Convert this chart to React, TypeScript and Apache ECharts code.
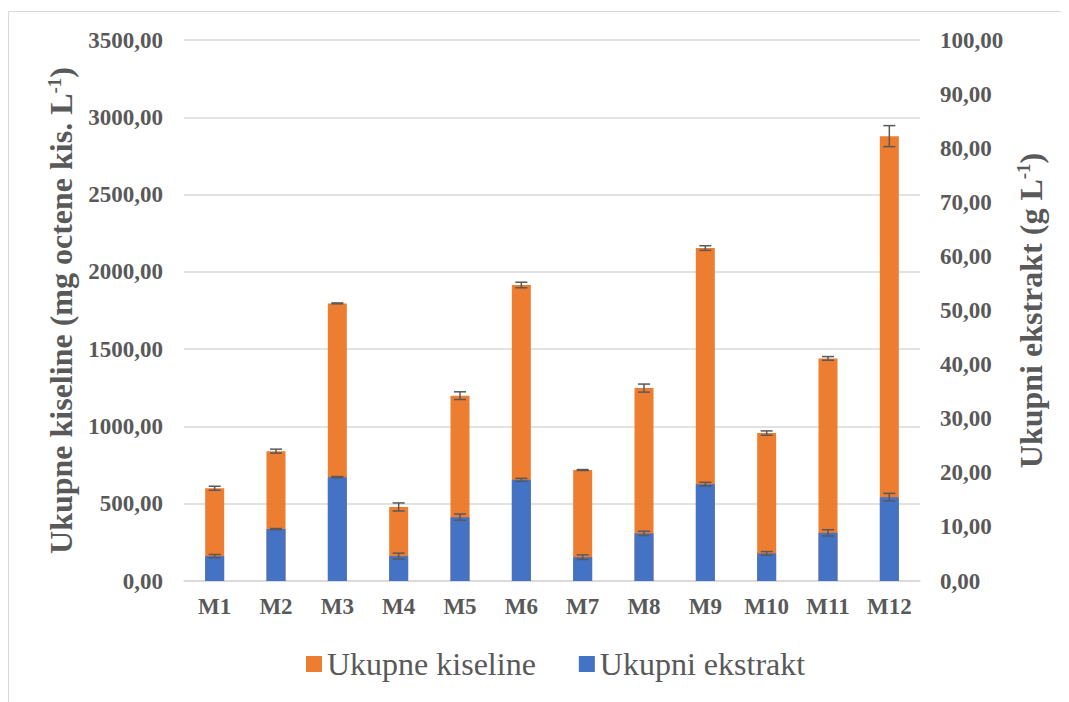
import React, { useEffect, useRef } from "react";
import * as echarts from "echarts";

const categories = ["M1", "M2", "M3", "M4", "M5", "M6", "M7", "M8", "M9", "M10", "M11", "M12"];
const kiseline = [600, 840, 1796, 479, 1199, 1915, 718, 1248, 2154, 957, 1440, 2878];
const kiselineErr = [13, 13, 3, 26, 25, 18, 3, 26, 15, 14, 12, 68];
const ekstrakt = [4.6, 9.6, 19.2, 4.6, 11.8, 18.7, 4.4, 8.8, 17.9, 5.1, 8.9, 15.5];
const ekstraktErr = [0.3, 0.1, 0.1, 0.55, 0.58, 0.28, 0.43, 0.4, 0.34, 0.34, 0.58, 0.7];

const ORANGE = "#ED7D31";
const BLUE = "#4472C4";
const TXT = "#595959";
const FONT = "Liberation Serif";

function errRender(params: any, api: any) {
  const i = api.value(0);
  const v = api.value(1);
  const e = api.value(2);
  const top = api.coord([i, v + e]);
  const bot = api.coord([i, v - e]);
  const cap = 6;
  const style = { stroke: TXT, lineWidth: 1.5 };
  return {
    type: "group",
    children: [
      { type: "line", shape: { x1: top[0], y1: top[1], x2: bot[0], y2: bot[1] }, style },
      { type: "line", shape: { x1: top[0] - cap, y1: top[1], x2: top[0] + cap, y2: top[1] }, style },
      { type: "line", shape: { x1: bot[0] - cap, y1: bot[1], x2: bot[0] + cap, y2: bot[1] }, style },
    ],
  };
}

export default function App() {
  const ref = useRef<HTMLDivElement>(null);
  useEffect(() => {
    const chart = echarts.init(ref.current!, null, { renderer: "svg" });
    const fmt = (v: number) => v.toFixed(2).replace(".", ",");
    const nameStyle = {
      fontFamily: FONT,
      fontSize: 32,
      fontWeight: "bold",
      color: TXT,
      rich: { sup: { fontFamily: FONT, fontSize: 19, fontWeight: "bold", color: TXT, padding: [0, 0, 14, 0] } },
    };
    chart.setOption({
      animation: false,
      textStyle: { fontFamily: FONT },
      graphic: [
        {
          type: "rect",
          shape: { x: 0.5, y: 3.5, width: 1200, height: 1200 },
          style: { fill: "none", stroke: "#d9d9d9", lineWidth: 1 },
          silent: true,
        },
      ],
      legend: {
        data: ["Ukupne kiseline", "Ukupni ekstrakt"],
        left: 293,
        top: 635,
        itemWidth: 16,
        itemHeight: 16,
        itemGap: 43,
        icon: "rect",
        textStyle: { fontFamily: FONT, fontSize: 32, color: TXT },
      },
      grid: { left: 176, right: 149, top: 32, bottom: 121 },
      xAxis: {
        type: "category",
        data: categories,
        axisLine: { lineStyle: { color: "#d9d9d9", width: 1.5 } },
        axisTick: { show: false },
        axisLabel: { color: TXT, fontFamily: FONT, fontSize: 23, fontWeight: "bold", margin: 14 },
      },
      yAxis: [
        {
          type: "value",
          min: 0,
          max: 3500,
          interval: 500,
          position: "left",
          name: "Ukupne kiseline (mg octene kis. L{sup|-1})",
          nameLocation: "middle",
          nameRotate: 90,
          nameGap: 100,
          nameTextStyle: nameStyle,
          axisLine: { show: false },
          axisTick: { show: false },
          axisLabel: { color: TXT, fontFamily: FONT, fontSize: 23, fontWeight: "bold", margin: 21, formatter: fmt },
          splitLine: { lineStyle: { color: "#d9d9d9", width: 1.5 } },
        },
        {
          type: "value",
          min: 0,
          max: 100,
          interval: 10,
          position: "right",
          name: "Ukupni ekstrakt (g L{sup|-1})",
          nameLocation: "middle",
          nameRotate: 90,
          nameGap: 93,
          nameTextStyle: nameStyle,
          axisLine: { show: false },
          axisTick: { show: false },
          axisLabel: { color: TXT, fontFamily: FONT, fontSize: 23, fontWeight: "bold", margin: 20, formatter: fmt },
          splitLine: { show: false },
        },
      ],
      series: [
        {
          name: "Ukupne kiseline",
          type: "bar",
          yAxisIndex: 0,
          data: kiseline,
          barWidth: 19,
          barGap: "-100%",
          itemStyle: { color: ORANGE },
          z: 2,
        },
        {
          name: "errK",
          type: "custom",
          yAxisIndex: 0,
          renderItem: errRender,
          data: kiseline.map((v, i) => [i, v, kiselineErr[i]]),
          z: 3,
        },
        {
          name: "Ukupni ekstrakt",
          type: "bar",
          yAxisIndex: 1,
          data: ekstrakt,
          barWidth: 19,
          barGap: "-100%",
          itemStyle: { color: BLUE },
          z: 4,
        },
        {
          name: "errE",
          type: "custom",
          yAxisIndex: 1,
          renderItem: errRender,
          data: ekstrakt.map((v, i) => [i, v, ekstraktErr[i]]),
          z: 5,
        },
      ],
    });
    return () => chart.dispose();
  }, []);
  return <div ref={ref} style={{ width: 1061, height: 694 }} />;
}
